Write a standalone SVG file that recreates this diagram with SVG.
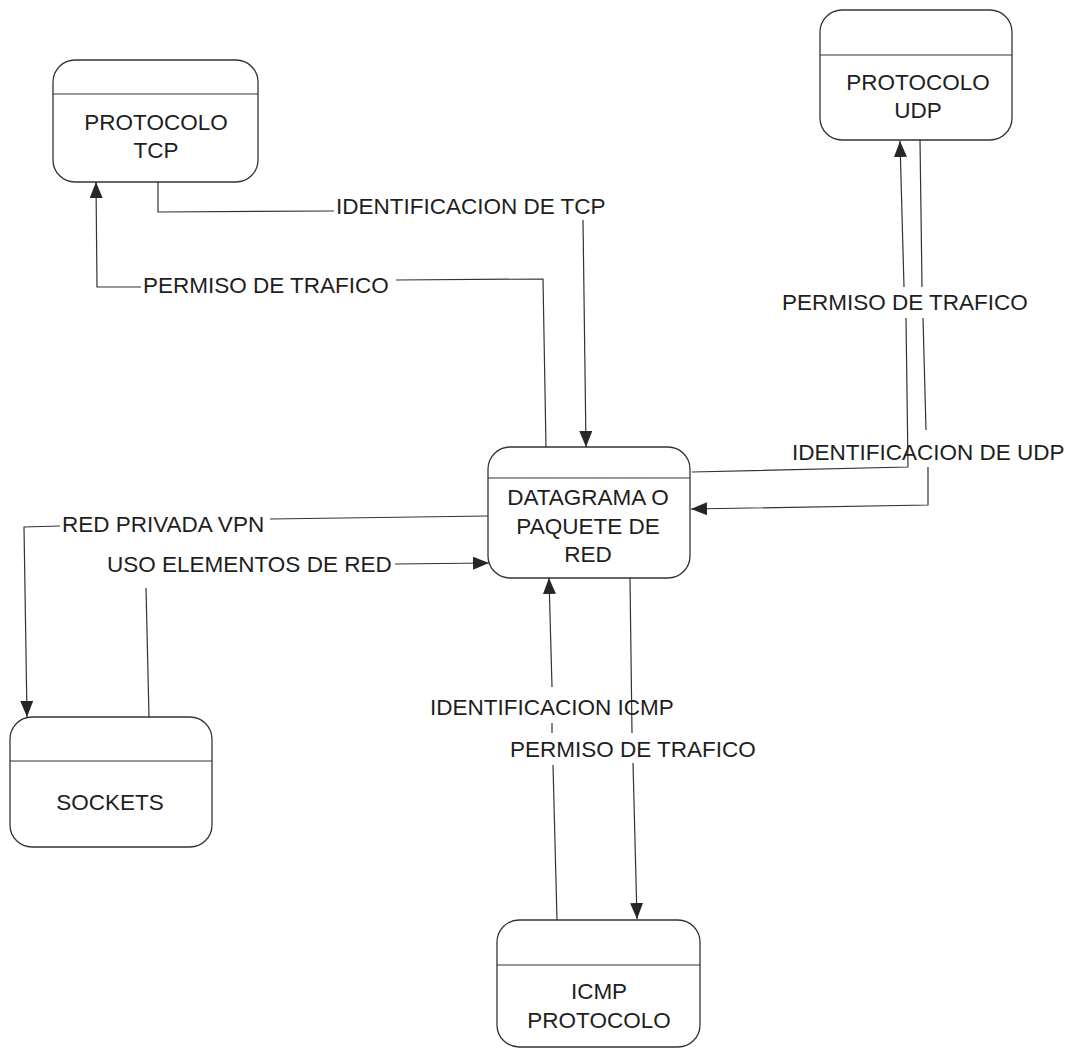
<svg xmlns="http://www.w3.org/2000/svg" width="1070" height="1050" viewBox="0 0 1070 1050">
<style>
.node rect{fill:#fff;stroke:#333;stroke-width:1.3}
.node line{stroke:#333;stroke-width:1.2}
text{font-family:"Liberation Sans",Arial,sans-serif;font-size:22.5px;fill:#1e1e1e}
.node text{text-anchor:middle}
#connectors path{fill:none;stroke:#333;stroke-width:1.2}
</style>
<defs>
<marker id="arr" markerUnits="userSpaceOnUse" markerWidth="16" markerHeight="13" refX="16" refY="6.5" orient="auto">
<path d="M0,0 L16,6.5 L0,13 z" fill="#262626"/>
</marker>
</defs>
<rect width="1070" height="1050" fill="#fff"/>
<g id="connectors">
<path d="M158,182 L158,212 L334,211"/>
<path d="M583,220 L586,447" marker-end="url(#arr)"/>
<path d="M546,447 L543,279 L396,280"/>
<path d="M141,287 L97,287 L96,182" marker-end="url(#arr)"/>
<path d="M692,472 L908,467 L906,318"/>
<path d="M904,287 L900,141" marker-end="url(#arr)"/>
<path d="M920,140 L922,287"/>
<path d="M923,318 L926,430"/>
<path d="M928,467 L928,505 L691,509" marker-end="url(#arr)"/>
<path d="M488,516 L270,519"/>
<path d="M60,526 L24,527 L27,717" marker-end="url(#arr)"/>
<path d="M149,717 L146,588"/>
<path d="M395,564 L489,563" marker-end="url(#arr)"/>
<path d="M552,687 L549,578" marker-end="url(#arr)"/>
<path d="M552,723 L552,733"/>
<path d="M553,765 L557,920"/>
<path d="M630,578 L632,733"/>
<path d="M633,763 L637,919" marker-end="url(#arr)"/>
<text x="336" y="214">IDENTIFICACION DE TCP</text>
<text x="143" y="293">PERMISO DE TRAFICO</text>
<text x="782" y="310">PERMISO DE TRAFICO</text>
<text x="792" y="460">IDENTIFICACION DE UDP</text>
<text x="62" y="532">RED PRIVADA VPN</text>
<text x="107" y="572">USO ELEMENTOS DE RED</text>
<text x="430" y="715">IDENTIFICACION ICMP</text>
<text x="510" y="757">PERMISO DE TRAFICO</text>
</g>
<g id="node-tcp" class="node">
<rect x="53" y="60" width="205" height="122" rx="22"/>
<line x1="53" y1="94" x2="258" y2="94"/>
<text x="156" y="130">PROTOCOLO</text>
<text x="156" y="158">TCP</text>
</g>
<g id="node-udp" class="node">
<rect x="820" y="10" width="192" height="130" rx="22"/>
<line x1="820" y1="55" x2="1012" y2="55"/>
<text x="918" y="90">PROTOCOLO</text>
<text x="918" y="118">UDP</text>
</g>
<g id="node-datagrama" class="node">
<rect x="488" y="447" width="202" height="131" rx="22"/>
<line x1="488" y1="478" x2="690" y2="478"/>
<text x="588" y="505">DATAGRAMA O</text>
<text x="588" y="534">PAQUETE DE</text>
<text x="588" y="562">RED</text>
</g>
<g id="node-sockets" class="node">
<rect x="10" y="717" width="202" height="130" rx="22"/>
<line x1="10" y1="761" x2="212" y2="761"/>
<text x="110" y="810">SOCKETS</text>
</g>
<g id="node-icmp" class="node">
<rect x="497" y="920" width="203" height="127" rx="22"/>
<line x1="497" y1="965" x2="700" y2="965"/>
<text x="599" y="999">ICMP</text>
<text x="599" y="1028">PROTOCOLO</text>
</g>
</svg>
